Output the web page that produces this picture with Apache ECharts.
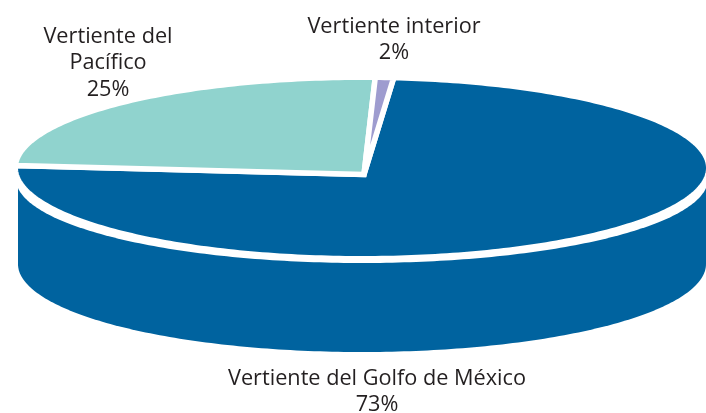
<!DOCTYPE html>
<html><head><meta charset="utf-8">
<style>html,body{margin:0;padding:0;background:#fff}#c{width:706px;height:413px}</style>
<script src="https://cdn.jsdelivr.net/npm/echarts@6/dist/echarts.min.js"></script>
</head><body><div id="c"></div>
<script>
// Slice names, printed percentages, and the shares as actually drawn in the picture
// (the reference draws its "2%" wedge at roughly 1% of the circle).
const categories = ['Vertiente del Golfo de México', 'Vertiente del Pacífico', 'Vertiente interior'];
const printedPercent = [73, 25, 2];
const drawnShare = [74, 25.2, 0.85];
const colors = ['#00639f', '#90d3ce', '#9e9ccf'];

const chart = echarts.init(document.getElementById('c'), null, {renderer:'canvas'});
const total = drawnShare.reduce((a,b)=>a+b,0);
const START = 5.25;              // clockwise from 12 o'clock, degrees
const GAP = 5.5;
const E = {cx:362, cy:168, rx:344, ry:88, apexX:364, apexY:174.5, rimCy:179, rimRy:84, baseCy:264};

function ell(cx,cy,rx,ry,deg){const t=deg*Math.PI/180;return [cx+rx*Math.sin(t),cy-ry*Math.cos(t)];}
function arc(cx,cy,rx,ry,a,b){const n=Math.max(2,Math.ceil(Math.abs(b-a)));const p=[];
  for(let i=0;i<=n;i++)p.push(ell(cx,cy,rx,ry,a+(b-a)*i/n));return p;}

function renderItem(params, api){
  const i = params.dataIndex;
  let a = START;
  for(let k=0;k<i;k++) a += drawnShare[k]/total*360;
  const b = a + api.value(0)/total*360;
  const children = [];
  if(i===0){
    const wall = [[E.cx-E.rx,E.rimCy]].concat(arc(E.cx,E.baseCy,E.rx,E.ry,270,90),[[E.cx+E.rx,E.rimCy]]);
    children.push({type:'polygon',shape:{points:wall},style:{fill:colors[0]}});
    children.push({type:'polygon',shape:{points:arc(E.cx,E.rimCy,E.rx+2,E.rimRy,0,360)},style:{fill:'#fff'}});
  }
  const pts = [[E.apexX,E.apexY]].concat(arc(E.cx,E.cy,E.rx+GAP/2,E.ry+GAP/2,a,b));
  children.push({type:'polygon',shape:{points:pts},
    style:{fill:colors[i],stroke:'#fff',lineWidth:GAP,lineJoin:i===2?'bevel':'miter',miterLimit:10}});
  return {type:'group',children};
}

const font = '21.7px "Open Sans"';
function label(x,y,lines){
  return {type:'text',x:x,y:y,silent:true,style:{
    text:lines.join('\n'),font:font,fill:'#231f20',align:'center',verticalAlign:'top',lineHeight:26.5}};
}
chart.setOption({
  animation:false,
  backgroundColor:'#fff',
  series:[{type:'custom',coordinateSystem:'none',renderItem,
    data:drawnShare.map((v,i)=>({name:categories[i],value:[v]}))}],
  graphic:[
    label(108,23.5,['Vertiente del','Pacífico',printedPercent[1]+'%']),
    label(394,13.5,[categories[2],printedPercent[2]+'%']),
    label(377,365.5,[categories[0],printedPercent[0]+'%'])
  ]
});
</script></body></html>
